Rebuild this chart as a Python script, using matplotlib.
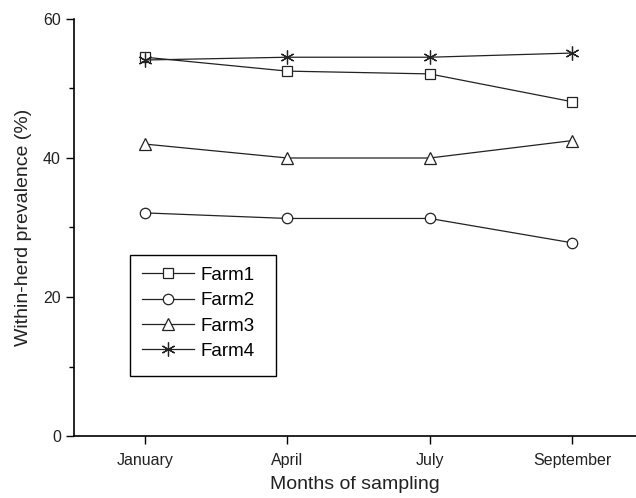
import matplotlib
matplotlib.use("Agg")
import matplotlib.pyplot as plt
from matplotlib.ticker import MultipleLocator
from matplotlib.patches import Rectangle

months = ["January", "April", "July", "September"]
farm1 = [54.5, 52.5, 52.1, 48.1]
farm2 = [32.1, 31.3, 31.3, 27.8]
farm3 = [42.0, 40.0, 40.0, 42.5]
farm4 = [54.1, 54.5, 54.5, 55.1]
series = [("Farm1", farm1, "s"), ("Farm2", farm2, "o"),
          ("Farm3", farm3, "^"), ("Farm4", farm4, (6, 2, 0))]

plt.rcParams['font.family'] = ['Liberation Sans', 'DejaVu Sans']

W, H = 636, 498
fig = plt.figure(figsize=(W/100, H/100), dpi=100)
ax = fig.add_axes([74/W, 1-436/H, 1-74/W, (436-19)/H])

x = list(range(len(months)))
sizes = {"s": 6.5, "o": 7.5, "^": 8.5, (6, 2, 0): 10}
for name, vals, mk in series:
    ax.plot(x, vals, color="#222222", lw=0.9, marker=mk,
            markersize=sizes[mk], markerfacecolor="white",
            markeredgecolor="#222222", markeredgewidth=0.9, label=name)

ax.set_xlim(-0.5, 3.45)
ax.set_ylim(0, 60)
ax.set_xticks(x)
ax.set_xticklabels(months, fontsize=11.5, color="#222222")
ax.set_yticks([0, 20, 40, 60])
ax.yaxis.set_minor_locator(MultipleLocator(10))
ax.tick_params(axis='y', which='major', labelsize=11.5, labelcolor="#222222",
               length=6, width=1, direction='out')
ax.tick_params(axis='y', which='minor', length=3.5, width=1, direction='out')
ax.tick_params(axis='x', which='major', length=6, width=1, direction='out', pad=6)
for s in ["top", "right"]:
    ax.spines[s].set_visible(False)
for s in ["left", "bottom"]:
    ax.spines[s].set_linewidth(1.2)

ax.set_xlabel("Months of sampling", fontsize=14, labelpad=6, color="#222222")
ax.set_ylabel("Within-herd prevalence (%)", fontsize=14, labelpad=8, color="#222222")

# legend frame drawn as a rectangle in figure pixels
frame = Rectangle((130/W, 1-376/H), (276-130)/W, (376-255)/H,
                  transform=fig.transFigure, facecolor="white",
                  edgecolor="black", lw=1.0, zorder=3, clip_on=False)
ax.add_patch(frame)
leg = ax.legend(loc="upper left", bbox_to_anchor=(130/W, 1-255/H),
                bbox_transform=fig.transFigure, borderaxespad=0,
                fontsize=13.5, numpoints=1, handlelength=2.8, handletextpad=0.35,
                labelspacing=0.44, borderpad=0.62, frameon=False)
leg.set_zorder(4)

fig.savefig("out.png", dpi=100)
